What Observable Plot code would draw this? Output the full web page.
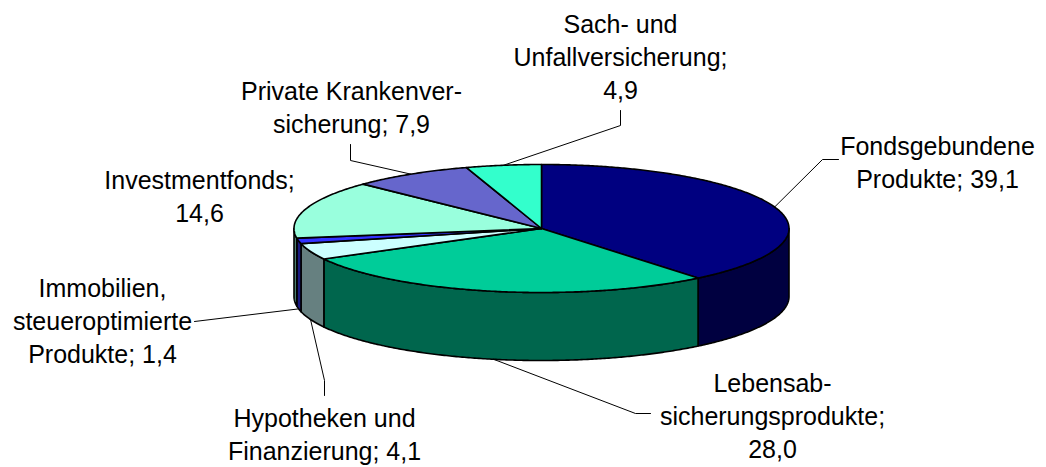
<!DOCTYPE html>
<html>
<head>
<meta charset="utf-8">
<script src="https://cdn.jsdelivr.net/npm/d3@7"></script>
<script src="https://cdn.jsdelivr.net/npm/@observablehq/plot@0.6"></script>
<style>
  html, body { margin: 0; padding: 0; background: #ffffff; }
  #chart svg { display: block; }
</style>
</head>
<body>
<div id="chart"></div>
<script>
// ---- Data ----
const categories = [
  "Fondsgebundene Produkte",
  "Lebensabsicherungsprodukte",
  "Hypotheken und Finanzierung",
  "Immobilien, steueroptimierte Produkte",
  "Investmentfonds",
  "Private Krankenversicherung",
  "Sach- und Unfallversicherung"
];
const values = [39.1, 28.0, 4.1, 1.4, 14.6, 7.9, 4.9];
// display names as wrapped in the chart, and separator before the value
const displayNames = [
  "Fondsgebundene\nProdukte",
  "Lebensab-\nsicherungsprodukte",
  "Hypotheken und\nFinanzierung",
  "Immobilien,\nsteueroptimierte\nProdukte",
  "Investmentfonds",
  "Private Krankenver-\nsicherung",
  "Sach- und\nUnfallversicherung"
];
const valueSeparators = ["; ", ";\n", "; ", "; ", ";\n", "; ", ";\n"];
const topColors  = ["#000080", "#00CC99", "#CCFFFF", "#3333FF", "#99FFDD", "#6666CC", "#33FFCC"];
const sideColors = ["#000040", "#00664D", "#668080", "#1A1A80", "#4D806F", "#333366", "#1A8066"];

// ---- Layout (pixels) ----
const W = 1046, H = 467;
const pie = {cx: 541, cy: 228, rx: 247.5, ry: 64, depth: 68};
const FS = 25, LH = 1.32;
// label anchor: center x, baseline of first line
const labelPos = [
  {x: 937, base: 155},
  {x: 772, base: 392},
  {x: 324, base: 427},
  {x: 102, base: 297},
  {x: 199, base: 189},
  {x: 351, base: 100},
  {x: 620, base: 33}
];
// leader elbows (null = no leader)
const leaderElbows = [
  [[822, 159], [838, 159]],
  [[635, 413], [650, 413]],
  [[324, 380], [324, 395]],
  [[194, 321]],
  null,
  [[350, 160], [350, 144]],
  [[620, 125], [620, 110]]
];

// ---- Geometry from values ----
const total = d3.sum(values);
const rad = Math.PI / 180;
const px = a => pie.cx + pie.rx * Math.sin(a * rad);
const py = a => pie.cy - pie.ry * Math.cos(a * rad);

let acc = 0;
const slices = values.map((v, i) => {
  const a0 = acc / total * 360;
  acc += v;
  const a1 = acc / total * 360;
  return {i, a0, a1, mid: (a0 + a1) / 2};
});

function arc(a0, a1, dy = 0) {
  const n = Math.max(2, Math.ceil((a1 - a0) / 0.5));
  const pts = [];
  for (let k = 0; k <= n; k++) {
    const a = a0 + (a1 - a0) * k / n;
    pts.push([px(a), py(a) + dy]);
  }
  return pts;
}

// walls (front half, 90..270 degrees)
const wallPts = [];
slices.forEach(s => {
  const b0 = Math.max(s.a0, 90), b1 = Math.min(s.a1, 270);
  if (b0 >= b1) return;
  const top = arc(b0, b1, 0);
  const bot = arc(b0, b1, pie.depth).reverse();
  const poly = [...top, ...bot, top[0]];
  poly.forEach(([x, y]) => wallPts.push({id: "w" + s.i, x, y, fill: sideColors[s.i]}));
});

// top faces
const topPts = [];
slices.forEach(s => {
  const poly = [[pie.cx, pie.cy], ...arc(s.a0, s.a1, 0), [pie.cx, pie.cy]];
  poly.forEach(([x, y]) => topPts.push({id: "t" + s.i, x, y, fill: topColors[s.i]}));
});

// leader lines
const leaderPts = [];
slices.forEach(s => {
  const el = leaderElbows[s.i];
  if (!el) return;
  const front = Math.cos(s.mid * rad) < 0;
  const start = [px(s.mid), py(s.mid) + (front ? pie.depth : 0)];
  [start, ...el].forEach(([x, y]) => leaderPts.push({id: "l" + s.i, x, y}));
});

// labels
const fmt = v => v.toFixed(1).replace(".", ",");
const labels = slices.map(s => ({
  text: displayNames[s.i] + valueSeparators[s.i] + fmt(values[s.i]),
  x: labelPos[s.i].x,
  y: labelPos[s.i].base - 0.71 * LH * FS
}));

const chart = Plot.plot({
  width: W,
  height: H,
  margin: 0,
  x: {domain: [0, W], range: [0, W], axis: null},
  y: {domain: [0, H], range: [0, H], axis: null},
  color: {type: "identity"},
  style: {background: "#ffffff", fontFamily: "'Liberation Sans', Arial, sans-serif"},
  marks: [
    Plot.line(wallPts, {x: "x", y: "y", z: "id", fill: "fill", stroke: "#000000", strokeWidth: 1.6, strokeLinejoin: "round", curve: "linear"}),
    Plot.line(topPts, {x: "x", y: "y", z: "id", fill: "fill", stroke: "#000000", strokeWidth: 1.6, strokeLinejoin: "round", curve: "linear"}),
    Plot.line(leaderPts, {x: "x", y: "y", z: "id", stroke: "#000000", strokeWidth: 1, curve: "linear"}),
    Plot.text(labels, {
      x: "x", y: "y", text: "text",
      fontSize: FS, lineHeight: LH, lineAnchor: "top", textAnchor: "middle",
      fill: "#000000", fontFamily: "'Liberation Sans', Arial, sans-serif"
    })
  ]
});
document.getElementById("chart").appendChild(chart);
</script>
</body>
</html>
